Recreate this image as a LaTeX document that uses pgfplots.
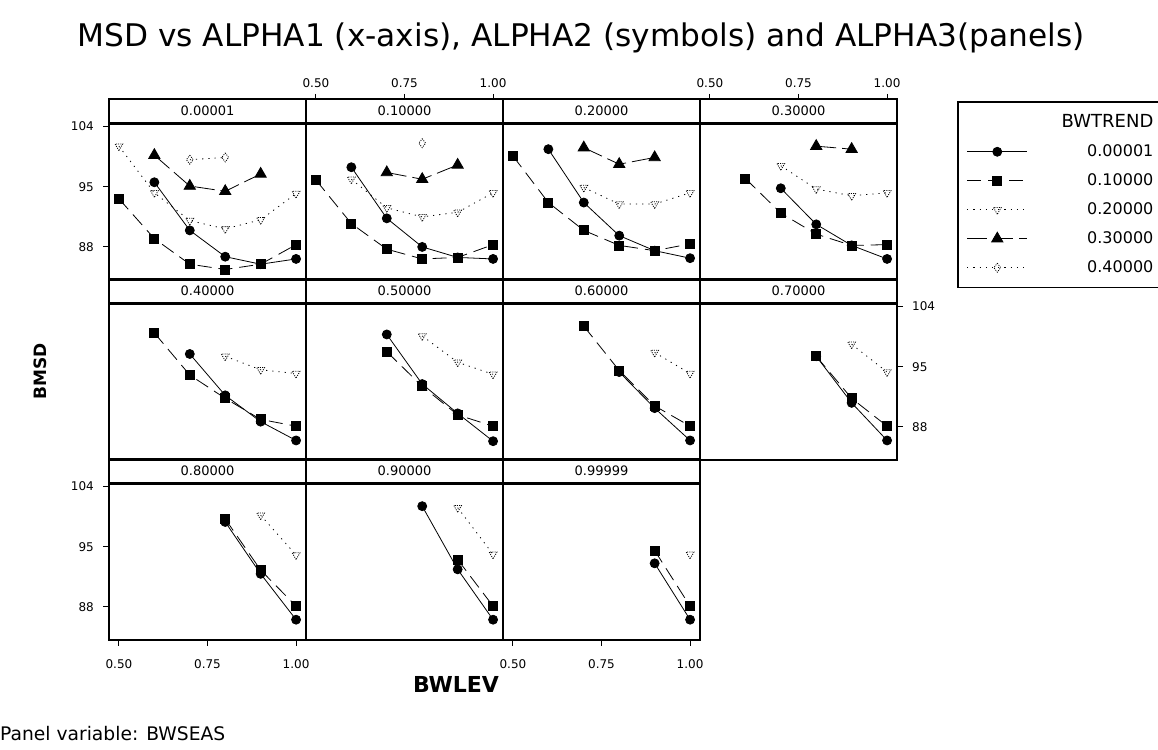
\documentclass[border=0pt]{standalone}
\usepackage{fontspec}
\setmainfont{DejaVu Sans}
\usepackage{pgfplots}
\pgfplotsset{compat=1.18}

\newcommand\pad{\rule{34pt}{0pt}}
\pgfplotsset{
  panel/.style={
    scale only axis, width=197pt, height=156pt,
    xmin=0.472, xmax=1.028, ymin=83.6, ymax=104.35,
    xtick={0.5,0.75,1}, xticklabels={0.50,0.75,1.00},
    ytick={88,96,104}, yticklabels={88,95,104},
    xmajorticks=false, ymajorticks=false,
    tick align=outside, major tick length=6pt,
    tick style={line width=1pt, black},
    axis line style={line width=1.6pt},
    ticklabel style={font=\fontsize{12}{14}\selectfont},
    yticklabel style={inner xsep=9pt},
    every axis title/.style={at={(0.5,1)}, anchor=south, draw, line width=1.6pt,
      minimum width=197pt, minimum height=24pt, inner sep=0pt,
      font=\fontsize{13}{15}\selectfont},
  },
  lefttick/.style={ymajorticks=true, ytick pos=left, yticklabel pos=left},
  righttick/.style={ymajorticks=true, ytick pos=right, yticklabel pos=right},
  bottick/.style={xmajorticks=true, xtick pos=left, xticklabel pos=left,
    xticklabel style={inner ysep=13pt}},
  toptick/.style={xmajorticks=true, xtick pos=right, xticklabel pos=right,
    xtick style={yshift=24pt}, xticklabel style={yshift=24pt, inner ysep=6pt}},
  s1/.style={black, line width=0.8pt, mark=*, mark size=4.5pt, mark options={solid}},
  s2/.style={black, line width=0.8pt, dash pattern=on 14pt off 7pt, mark=square*,
    mark size=4.5pt, mark options={solid}},
  s3/.style={black, line width=0.8pt, dash pattern=on 1.2pt off 5pt, mark=triangle,
    mark size=4.5pt, mark options={rotate=180, line width=0.8pt, dash pattern=on 1pt off 1.2pt}},
  s4/.style={black, line width=0.8pt, dash pattern=on 20pt off 6pt, mark=triangle*,
    mark size=6.5pt, mark options={solid}},
  s5/.style={black, line width=0.8pt, dash pattern=on 1.2pt off 5pt, mark=diamond,
    mark size=4.5pt, mark options={line width=0.8pt, dash pattern=on 1pt off 1.2pt}},
}

\begin{document}
\begin{tikzpicture}[x=1pt,y=1pt]
\useasboundingbox (0,0) rectangle (1158,749);
\node[font=\fontsize{31.2}{36}\selectfont] at (581,711) {MSD vs ALPHA1 (x-axis), ALPHA2 (symbols) and ALPHA3(panels)};
\node[font=\bfseries\fontsize{17}{20}\selectfont, rotate=90] at (40,378) {BMSD};
\node[font=\bfseries\fontsize{22}{26}\selectfont] at (456,65) {BWLEV};
\node[font=\fontsize{18.7}{22}\selectfont, anchor=west, inner sep=0pt] at (0,15) {Panel variable: BWSEAS};

% row 1
\begin{axis}[panel, lefttick, at={(109pt,625pt)}, anchor=north west, title={0.00001}]
\addplot[s1] coordinates {(0.6,96.6)(0.7,90.2)(0.8,86.7)(0.9,85.7)(1.0,86.4)};
\addplot[s2] coordinates {(0.5,94.4)(0.6,89.1)(0.7,85.7)(0.8,85.0)(0.9,85.7)(1.0,88.3)};
\addplot[s3] coordinates {(0.5,101.4)(0.6,95.2)(0.7,91.5)(0.8,90.4)(0.9,91.6)(1.0,95.1)};
\addplot[s4] coordinates {(0.6,100.2)(0.7,96.1)(0.8,95.4)(0.9,97.7)};
\addplot[s5] coordinates {(0.7,99.6)(0.8,99.9)};
\end{axis}

\begin{axis}[panel, toptick, at={(306pt,625pt)}, anchor=north west, title={0.10000}]
\addplot[s1] coordinates {(0.6,98.6)(0.7,91.8)(0.8,88.0)(0.9,86.6)(1.0,86.4)};
\addplot[s2] coordinates {(0.5,96.9)(0.6,91.1)(0.7,87.7)(0.8,86.4)(0.9,86.6)(1.0,88.3)};
\addplot[s3] coordinates {(0.6,97.0)(0.7,93.2)(0.8,92.0)(0.9,92.6)(1.0,95.2)};
\addplot[s4] coordinates {(0.7,97.9)(0.8,97.0)(0.9,98.9)};
\addplot[s5] coordinates {(0.8,101.8)};
\end{axis}

\begin{axis}[panel, at={(503pt,625pt)}, anchor=north west, title={0.20000}]
\addplot[s1] coordinates {(0.6,101.0)(0.7,93.9)(0.8,89.5)(0.9,87.5)(1.0,86.5)};
\addplot[s2] coordinates {(0.5,100.1)(0.6,93.9)(0.7,90.2)(0.8,88.2)(0.9,87.5)(1.0,88.4)};
\addplot[s3] coordinates {(0.7,95.9)(0.8,93.7)(0.9,93.7)(1.0,95.2)};
\addplot[s4] coordinates {(0.7,101.2)(0.8,99.0)(0.9,99.9)};
\end{axis}

\begin{axis}[panel, toptick, at={(700pt,625pt)}, anchor=north west, title={0.30000},
  legend style={at={(1.305,1.147)}, anchor=north west, draw=black, line width=1.6pt,
    font=\fontsize{16}{19}\selectfont, row sep=11.6pt, column sep=32pt,
    inner xsep=9pt, inner ysep=11pt, nodes={inner sep=2pt}},
  legend cell align=right,
  legend image code/.code={\draw[mark repeat=2,mark phase=2,#1] plot coordinates {(0pt,0pt)(30pt,0pt)(60pt,0pt)};}]
\addplot[s1, forget plot] coordinates {(0.7,95.8)(0.8,91.0)(0.9,88.2)(1.0,86.4)};
\addplot[s2, forget plot] coordinates {(0.6,97.1)(0.7,92.5)(0.8,89.7)(0.9,88.2)(1.0,88.3)};
\addplot[s3, forget plot] coordinates {(0.7,98.8)(0.8,95.7)(0.9,94.8)(1.0,95.2)};
\addplot[s4, forget plot] coordinates {(0.8,101.4)(0.9,101.0)};
\addlegendimage{empty legend}\addlegendentry{{\fontsize{18}{20}\selectfont BWTREND}\pad}
\addlegendimage{s1}\addlegendentry{0.00001\pad}
\addlegendimage{s2}\addlegendentry{0.10000\pad}
\addlegendimage{s3}\addlegendentry{0.20000\pad}
\addlegendimage{s4}\addlegendentry{0.30000\pad}
\addlegendimage{s5}\addlegendentry{0.40000\pad}
\end{axis}

% row 2
\begin{axis}[panel, at={(109pt,445pt)}, anchor=north west, title={0.40000}]
\addplot[s1] coordinates {(0.7,97.7)(0.8,92.2)(0.9,88.7)(1.0,86.2)};
\addplot[s2] coordinates {(0.6,100.5)(0.7,94.9)(0.8,91.8)(0.9,89.0)(1.0,88.1)};
\addplot[s3] coordinates {(0.8,97.4)(0.9,95.6)(1.0,95.1)};
\end{axis}

\begin{axis}[panel, at={(306pt,445pt)}, anchor=north west, title={0.50000}]
\addplot[s1] coordinates {(0.7,100.3)(0.8,93.7)(0.9,89.8)(1.0,86.1)};
\addplot[s2] coordinates {(0.7,98.0)(0.8,93.4)(0.9,89.6)(1.0,88.1)};
\addplot[s3] coordinates {(0.8,100.1)(0.9,96.6)(1.0,95.0)};
\end{axis}

\begin{axis}[panel, at={(503pt,445pt)}, anchor=north west, title={0.60000}]
\addplot[s1] coordinates {(0.8,95.3)(0.9,90.5)(1.0,86.2)};
\addplot[s2] coordinates {(0.7,101.4)(0.8,95.5)(0.9,90.8)(1.0,88.1)};
\addplot[s3] coordinates {(0.9,97.9)(1.0,95.1)};
\end{axis}

\begin{axis}[panel, righttick, at={(700pt,445pt)}, anchor=north west, title={0.70000}]
\addplot[s1] coordinates {(0.8,97.4)(0.9,91.2)(1.0,86.2)};
\addplot[s2] coordinates {(0.8,97.4)(0.9,91.8)(1.0,88.1)};
\addplot[s3] coordinates {(0.9,99.0)(1.0,95.3)};
\end{axis}

% row 3
\begin{axis}[panel, lefttick, bottick, at={(109pt,265pt)}, anchor=north west, title={0.80000}]
\addplot[s1] coordinates {(0.8,99.3)(0.9,92.4)(1.0,86.3)};
\addplot[s2] coordinates {(0.8,99.7)(0.9,92.9)(1.0,88.1)};
\addplot[s3] coordinates {(0.9,100.2)(1.0,94.9)};
\end{axis}

\begin{axis}[panel, at={(306pt,265pt)}, anchor=north west, title={0.90000}]
\addplot[s1] coordinates {(0.8,101.4)(0.9,93.0)(1.0,86.3)};
\addplot[s2] coordinates {(0.9,94.3)(1.0,88.1)};
\addplot[s3] coordinates {(0.9,101.2)(1.0,95.0)};
\end{axis}

\begin{axis}[panel, bottick, at={(503pt,265pt)}, anchor=north west, title={0.99999}]
\addplot[s1] coordinates {(0.9,93.8)(1.0,86.3)};
\addplot[s2] coordinates {(0.9,95.5)(1.0,88.1)};
\addplot[s3] coordinates {(1.0,95.0)};
\end{axis}
\end{tikzpicture}
\end{document}
